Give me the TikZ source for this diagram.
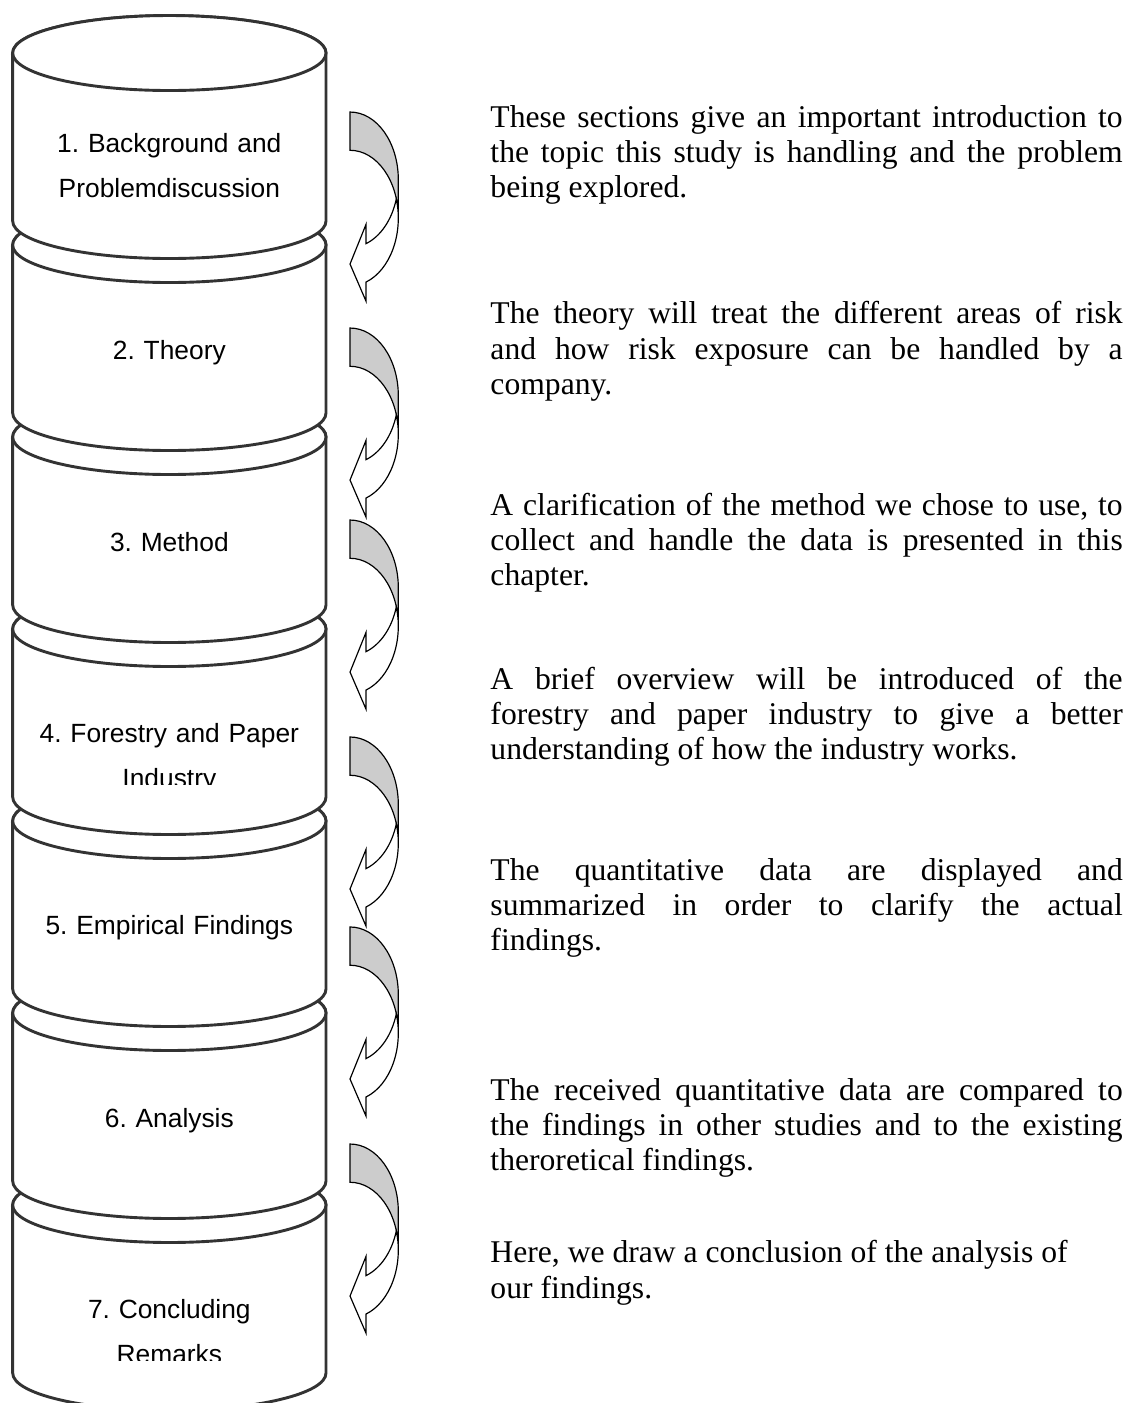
\documentclass[tikz,border=0pt]{standalone}
\usepackage{fontspec}
\setmainfont{Liberation Serif}
\setsansfont{Liberation Sans}
\tolerance=10000
\hbadness=10000
\frenchspacing

\begin{document}
\begin{tikzpicture}[x=1cm,y=1cm,
  cylbody/.style={draw=black!80,line width=1.1pt,fill=white},
  backband/.style={draw=black,line width=0.45pt,fill=black!20},
  frontband/.style={draw=black,line width=0.45pt,fill=white},
  cyllabel/.style={font=\sffamily\fontsize{10pt}{17.4pt}\selectfont,align=center,
    text width=4cm,anchor=base,inner sep=0pt},
  desc/.style={font=\fontsize{12pt}{13.3pt}\selectfont,align=justify,
    text width=8.43cm,anchor=base west,inner sep=0pt}]
  \useasboundingbox (0,0) rectangle (15.027,18.707);

  % cylinders, lowest first so that each one lies over the next
  \foreach \k in {7,6,...,1}{
    \pgfmathsetmacro{\yc}{18-2.56*(\k-1)}
    \draw[cylbody] (0.169,\yc) -- (0.169,\yc-2.24)
      arc[start angle=180,end angle=360,x radius=2.089,y radius=0.5] -- (4.347,\yc)
      arc[start angle=0,end angle=180,x radius=2.089,y radius=0.5] -- cycle;
    \draw[cylbody] (2.258,\yc) ellipse[x radius=2.089,y radius=0.5];
  }

  \node[cyllabel] (lab1) at (2.258,16.68) {1. Background and\\Problemdiscussion};
  \node[cyllabel] (lab2) at (2.258,13.92) {2. Theory};
  \node[cyllabel] (lab3) at (2.258,11.36) {3. Method};
  \begin{scope}
    \clip (0.3,8.247) rectangle (4.2,9.6);
    \node[cyllabel] (lab4) at (2.258,8.813) {4. Forestry and Paper\\Industry};
  \end{scope}
  \node[cyllabel] (lab5) at (2.258,6.253) {5. Empirical Findings};
  \node[cyllabel] (lab6) at (2.258,3.68) {6. Analysis};
  \begin{scope}
    \clip (0.3,0.567) rectangle (4.2,2);
    \node[cyllabel] (lab7) at (2.258,1.133) {7. Concluding\\Remarks};
  \end{scope}

  % bent arrows between the levels
  \foreach \ay in {17.213,14.333,11.773,8.88,6.347,3.453}{
    \begin{scope}[shift={(4.667,\ay)}]
      \draw[backband] (0,0) arc[start angle=90,end angle=0,x radius=0.644,y radius=0.903]
        -- (0.644,-1.413) arc[start angle=0,end angle=90,x radius=0.644,y radius=0.903] -- cycle;
      \draw[frontband] (0,-2.027) -- (0.213,-1.499) -- (0.213,-1.755)
        arc[start angle=-70.65,end angle=-16.48,x radius=0.644,y radius=0.903]
        arc[start angle=16.48,end angle=-70.65,x radius=0.644,y radius=0.903]
        -- (0.213,-2.521) -- cycle;
    \end{scope}
  }

  \node[desc] (desc1) at (6.533,17.013) {These sections give an important introduction to\linebreak
    the topic this study is handling and the problem\linebreak being explored.};
  \node[desc] (desc2) at (6.533,14.387) {The theory will treat the different areas of risk\linebreak
    and how risk exposure can be handled by a\linebreak company.};
  \node[desc] (desc3) at (6.533,11.84) {A clarification of the method we chose to use, to\linebreak
    collect and handle the data is presented in this\linebreak chapter.};
  \node[desc] (desc4) at (6.533,9.52) {A brief overview will be introduced of the\linebreak
    forestry and paper industry to give a better\linebreak understanding of how the industry works.};
  \node[desc] (desc5) at (6.533,6.973) {The quantitative data are displayed and\linebreak
    summarized in order to clarify the actual\linebreak findings.};
  \node[desc] (desc6) at (6.533,4.04) {The received quantitative data are compared to\linebreak
    the findings in other studies and to the existing\linebreak theroretical findings.};
  \node[desc] (desc7) at (6.533,1.867) {Here, we draw a conclusion of the analysis of\\
    our findings.};
\end{tikzpicture}
\end{document}
